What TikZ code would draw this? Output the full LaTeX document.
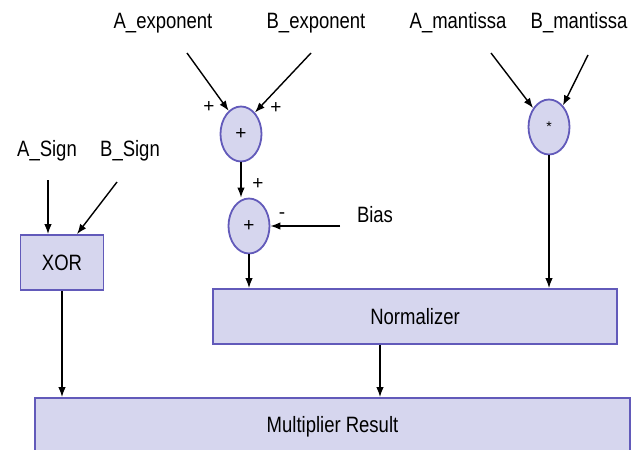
\documentclass[tikz,border=0pt]{standalone}
\usepackage{fontspec}
\usepackage{graphicx}
\setmainfont{Liberation Sans}
\usetikzlibrary{shapes.geometric,arrows.meta}
\definecolor{boxfill}{RGB}{214,214,238}
\definecolor{boxline}{RGB}{98,90,186}
\newcommand{\tallt}[1]{\scalebox{1}[1.2]{#1}}

\begin{document}
\begin{tikzpicture}[x=1pt, y=-1pt,
	block/.style = {draw=boxline, fill=boxfill, line width=1.8pt, inner sep=0pt, font=\fontsize{18.5}{20}\selectfont},
	adder/.style = {draw=boxline, fill=boxfill, line width=1.8pt, ellipse, minimum width=41pt, minimum height=55pt, inner sep=0pt, font=\fontsize{19}{20}\selectfont},
	lbl/.style = {font=\fontsize{18.5}{20}\selectfont, inner sep=1pt},
	sgn/.style = {font=\fontsize{19}{20}\selectfont, inner sep=0pt},
	arr/.style = {-{Latex[length=10pt,width=7.5pt]}, line width=1.4pt}]
	\useasboundingbox (0,0) rectangle (638,450);
	\clip (0,0) rectangle (638,450);
	% inputs
	\node[lbl] (aexp) at (163,23) {\tallt{A\_exponent}};
	\node[lbl] (bexp) at (316,23) {\tallt{B\_exponent}};
	\node[lbl] (aman) at (458,23) {\tallt{A\_mantissa}};
	\node[lbl] (bman) at (579,23) {\tallt{B\_mantissa}};
	\node[lbl] (asgn) at (47,151) {\tallt{A\_Sign}};
	\node[lbl] (bsgn) at (130,151) {\tallt{B\_Sign}};
	\node[lbl] (bias) at (375,215) {\tallt{Bias}};
	\coordinate (ae) at (187,53);
	\coordinate (be) at (311,53);
	\coordinate (am) at (491,53);
	\coordinate (bm) at (588,55);
	\coordinate (as) at (48,180);
	\coordinate (bs) at (117,182);
	\coordinate (bi) at (340,226);
	% units
	\node[adder] (add1) at (241,134) {+};
	\node[adder] (add2) at (249,226) {+};
	\node[adder, font=\fontsize{14}{15}\selectfont] (mult) at (549,127) {*};
	\node[block, minimum width=83pt, minimum height=55pt] (xor) at (62,262.5) {\tallt{XOR}};
	\node[block, minimum width=404pt, minimum height=55pt] (norm) at (415,316.5) {\tallt{Normalizer}};
	\node[block, minimum width=595pt, minimum height=58pt] (res) at (332.5,427) {\tallt{Multiplier Result}};
	% signs
	\node[sgn] at (209,107) {+};
	\node[sgn] at (276,108) {+};
	\node[sgn] at (258,184) {+};
	\node[sgn] at (282,216) {-};
	% connections
	\draw[arr] (ae) -- (add1.118);
	\draw[arr] (be) -- (add1.57);
	\draw[arr] (add1) -- (add1 |- add2.north);
	\draw[arr] (bi) -- (add2);
	\draw[arr] (add2) -- (add2 |- norm.north);
	\draw[arr] (am) -- (mult.130);
	\draw[arr] (bm) -- (mult.57);
	\draw[arr] (mult) -- (mult |- norm.north);
	\draw[arr] (as) -- (as |- xor.north);
	\draw[arr] (bs) -- ([xshift=15pt]xor.north);
	\draw[arr] (xor) -- (xor |- res.north);
	\draw[arr] ([xshift=-35pt]norm.south) -- ([xshift=-35pt]norm.south |- res.north);
\end{tikzpicture}
\end{document}
